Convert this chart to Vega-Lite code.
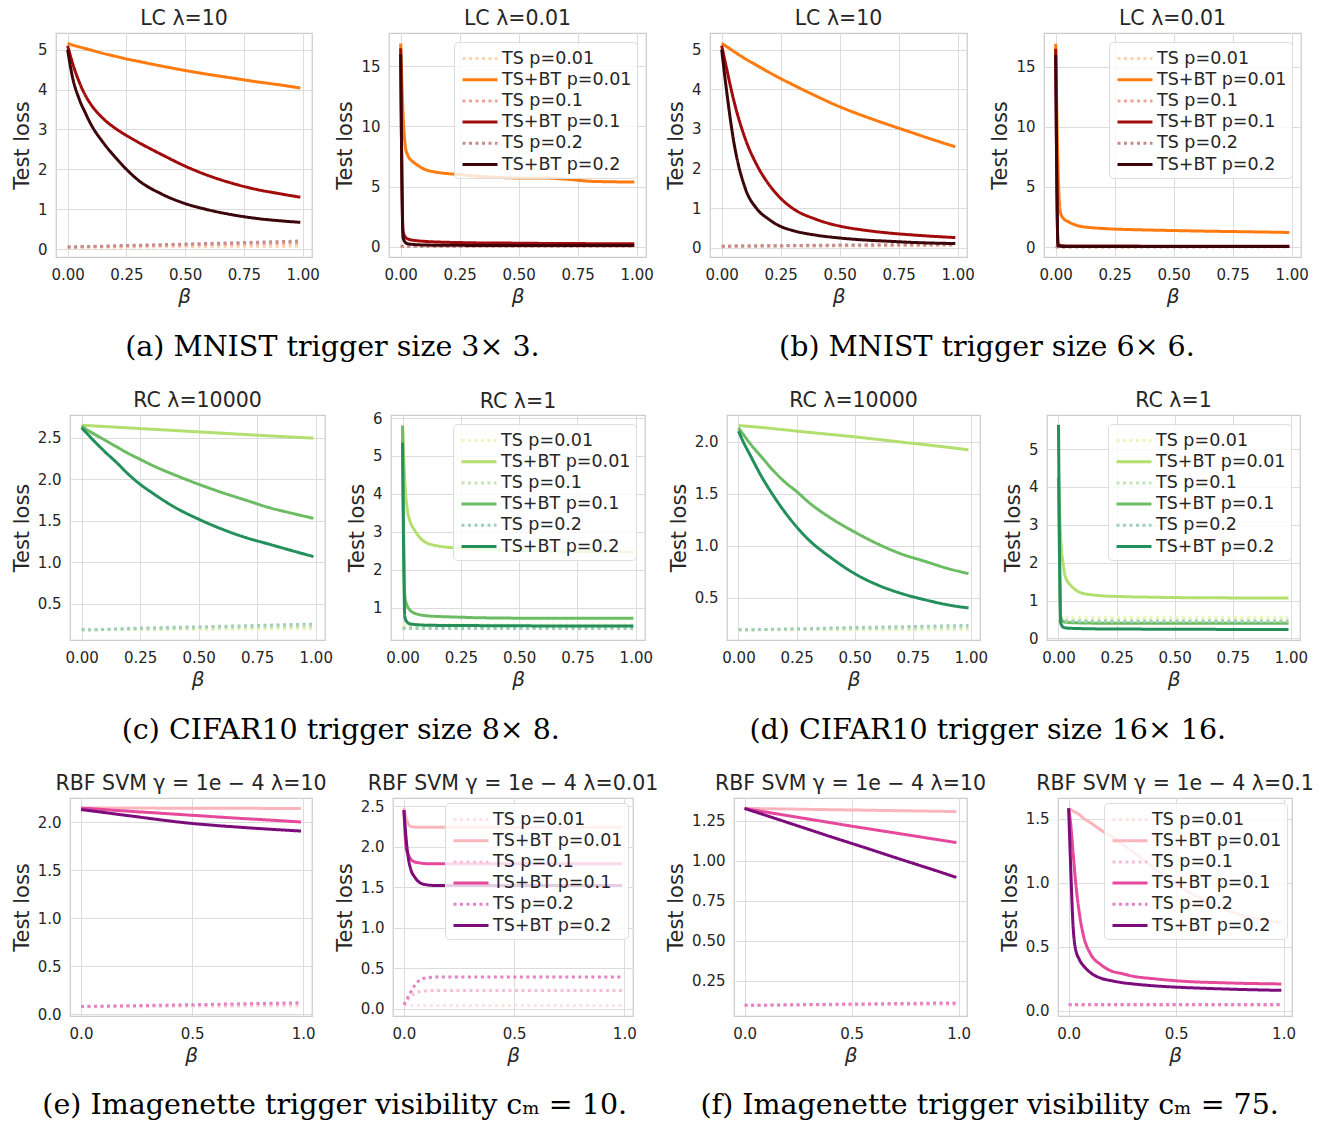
{
"$schema": "https://vega.github.io/schema/vega-lite/v6.json",
"background": "white",
"padding": {"left": 7, "top": 7, "right": 4, "bottom": 2},
"config": {
  "font": "DejaVu Sans",
  "view": {"stroke": "#cccccc", "strokeWidth": 1.25},
  "axis": {"grid": true, "gridColor": "#dcdcdc", "gridWidth": 1, "domain": false, "ticks": false, "tickSize": 0, "labelFont": "DejaVu Sans", "labelFontSize": 15, "labelColor": "#262626", "titleFont": "DejaVu Sans", "titleFontSize": 21, "titleFontWeight": "normal", "titleColor": "#262626", "labelOverlap": false},
  "axisX": {"labelPadding": 10.5, "titlePadding": 4, "titleFontSize": 20, "titleFontStyle": "italic", "labelFlush": false},
  "axisY": {"labelPadding": 9, "titlePadding": 5},
  "title": {"font": "DejaVu Sans", "fontSize": 20.5, "fontWeight": "normal", "color": "#262626", "offset": 0, "frame": "group"},
  "legend": {"padding": 5, "fillColor": "rgba(255,255,255,0.8)", "strokeColor": "#dddddd", "cornerRadius": 4, "labelFont": "DejaVu Sans", "labelFontSize": 17.5, "labelColor": "#262626", "symbolType": "M-1.75,0H1.75", "symbolSize": 400, "symbolStrokeWidth": 3, "symbolOffset": 9.5, "labelOffset": 10.5, "rowPadding": 1.2}
},
"datasets": {"d": [
{"panel":"a1","beta":0,"ts1":0.04,"bt1":5.16,"ts10":0.05,"bt10":5.1,"ts20":0.05,"bt20":5.0},
{"panel":"a1","beta":0.02,"ts1":0.04,"bt1":5.12,"ts10":0.05,"bt10":4.68,"ts20":0.05,"bt20":4.33},
{"panel":"a1","beta":0.05,"ts1":0.04,"bt1":5.07,"ts10":0.055,"bt10":4.18,"ts20":0.06,"bt20":3.75},
{"panel":"a1","beta":0.075,"ts1":0.042,"bt1":5.03,"ts10":0.057,"bt10":3.86,"ts20":0.062,"bt20":3.42},
{"panel":"a1","beta":0.1,"ts1":0.045,"bt1":4.99,"ts10":0.06,"bt10":3.62,"ts20":0.065,"bt20":3.12},
{"panel":"a1","beta":0.15,"ts1":0.045,"bt1":4.91,"ts10":0.065,"bt10":3.28,"ts20":0.07,"bt20":2.68},
{"panel":"a1","beta":0.2,"ts1":0.045,"bt1":4.84,"ts10":0.07,"bt10":3.04,"ts20":0.08,"bt20":2.32},
{"panel":"a1","beta":0.25,"ts1":0.05,"bt1":4.77,"ts10":0.075,"bt10":2.85,"ts20":0.09,"bt20":2.0},
{"panel":"a1","beta":0.3,"ts1":0.05,"bt1":4.71,"ts10":0.08,"bt10":2.68,"ts20":0.095,"bt20":1.73},
{"panel":"a1","beta":0.4,"ts1":0.055,"bt1":4.59,"ts10":0.09,"bt10":2.37,"ts20":0.11,"bt20":1.38},
{"panel":"a1","beta":0.5,"ts1":0.055,"bt1":4.48,"ts10":0.1,"bt10":2.08,"ts20":0.125,"bt20":1.14},
{"panel":"a1","beta":0.6,"ts1":0.06,"bt1":4.38,"ts10":0.11,"bt10":1.84,"ts20":0.14,"bt20":0.98},
{"panel":"a1","beta":0.7,"ts1":0.06,"bt1":4.29,"ts10":0.12,"bt10":1.65,"ts20":0.155,"bt20":0.86},
{"panel":"a1","beta":0.8,"ts1":0.065,"bt1":4.2,"ts10":0.13,"bt10":1.5,"ts20":0.17,"bt20":0.77},
{"panel":"a1","beta":0.9,"ts1":0.065,"bt1":4.12,"ts10":0.14,"bt10":1.39,"ts20":0.185,"bt20":0.71},
{"panel":"a1","beta":0.99,"ts1":0.07,"bt1":4.04,"ts10":0.15,"bt10":1.3,"ts20":0.2,"bt20":0.67},
{"panel":"a2","beta":0,"ts1":0.02,"bt1":16.9,"ts10":0.03,"bt10":16.5,"ts20":0.04,"bt20":16.0},
{"panel":"a2","beta":0.01,"ts1":0.02,"bt1":11.0,"ts10":0.03,"bt10":1.3,"ts20":0.04,"bt20":0.8},
{"panel":"a2","beta":0.02,"ts1":0.02,"bt1":8.3,"ts10":0.03,"bt10":0.8,"ts20":0.04,"bt20":0.35},
{"panel":"a2","beta":0.03,"ts1":0.02,"bt1":7.6,"ts10":0.03,"bt10":0.65,"ts20":0.04,"bt20":0.25},
{"panel":"a2","beta":0.05,"ts1":0.02,"bt1":7.1,"ts10":0.035,"bt10":0.55,"ts20":0.045,"bt20":0.2},
{"panel":"a2","beta":0.07,"ts1":0.02,"bt1":6.8,"ts10":0.035,"bt10":0.5,"ts20":0.045,"bt20":0.17},
{"panel":"a2","beta":0.1,"ts1":0.02,"bt1":6.45,"ts10":0.035,"bt10":0.45,"ts20":0.045,"bt20":0.15},
{"panel":"a2","beta":0.15,"ts1":0.02,"bt1":6.2,"ts10":0.04,"bt10":0.4,"ts20":0.05,"bt20":0.13},
{"panel":"a2","beta":0.2,"ts1":0.025,"bt1":6.08,"ts10":0.04,"bt10":0.37,"ts20":0.05,"bt20":0.12},
{"panel":"a2","beta":0.25,"ts1":0.025,"bt1":6.0,"ts10":0.04,"bt10":0.35,"ts20":0.05,"bt20":0.12},
{"panel":"a2","beta":0.3,"ts1":0.025,"bt1":5.9,"ts10":0.04,"bt10":0.33,"ts20":0.055,"bt20":0.11},
{"panel":"a2","beta":0.4,"ts1":0.025,"bt1":5.78,"ts10":0.045,"bt10":0.31,"ts20":0.055,"bt20":0.11},
{"panel":"a2","beta":0.5,"ts1":0.025,"bt1":5.72,"ts10":0.045,"bt10":0.3,"ts20":0.06,"bt20":0.11},
{"panel":"a2","beta":0.6,"ts1":0.03,"bt1":5.72,"ts10":0.05,"bt10":0.28,"ts20":0.06,"bt20":0.1},
{"panel":"a2","beta":0.7,"ts1":0.03,"bt1":5.62,"ts10":0.05,"bt10":0.27,"ts20":0.065,"bt20":0.1},
{"panel":"a2","beta":0.8,"ts1":0.03,"bt1":5.45,"ts10":0.05,"bt10":0.26,"ts20":0.07,"bt20":0.1},
{"panel":"a2","beta":0.9,"ts1":0.03,"bt1":5.4,"ts10":0.055,"bt10":0.25,"ts20":0.07,"bt20":0.1},
{"panel":"a2","beta":0.99,"ts1":0.03,"bt1":5.38,"ts10":0.055,"bt10":0.25,"ts20":0.075,"bt20":0.1},
{"panel":"b1","beta":0,"ts1":0.04,"bt1":5.16,"ts10":0.04,"bt10":5.1,"ts20":0.04,"bt20":5.0},
{"panel":"b1","beta":0.02,"ts1":0.04,"bt1":5.08,"ts10":0.04,"bt10":4.55,"ts20":0.04,"bt20":4.0},
{"panel":"b1","beta":0.05,"ts1":0.04,"bt1":4.96,"ts10":0.045,"bt10":3.75,"ts20":0.045,"bt20":2.72},
{"panel":"b1","beta":0.1,"ts1":0.04,"bt1":4.77,"ts10":0.045,"bt10":2.75,"ts20":0.05,"bt20":1.5},
{"panel":"b1","beta":0.15,"ts1":0.045,"bt1":4.6,"ts10":0.05,"bt10":2.08,"ts20":0.05,"bt20":0.98},
{"panel":"b1","beta":0.2,"ts1":0.045,"bt1":4.43,"ts10":0.05,"bt10":1.6,"ts20":0.055,"bt20":0.72},
{"panel":"b1","beta":0.25,"ts1":0.045,"bt1":4.27,"ts10":0.05,"bt10":1.25,"ts20":0.055,"bt20":0.54},
{"panel":"b1","beta":0.3,"ts1":0.045,"bt1":4.12,"ts10":0.055,"bt10":1.0,"ts20":0.06,"bt20":0.44},
{"panel":"b1","beta":0.4,"ts1":0.05,"bt1":3.83,"ts10":0.055,"bt10":0.72,"ts20":0.065,"bt20":0.32},
{"panel":"b1","beta":0.5,"ts1":0.05,"bt1":3.56,"ts10":0.06,"bt10":0.55,"ts20":0.07,"bt20":0.25},
{"panel":"b1","beta":0.6,"ts1":0.05,"bt1":3.33,"ts10":0.06,"bt10":0.45,"ts20":0.075,"bt20":0.2},
{"panel":"b1","beta":0.7,"ts1":0.05,"bt1":3.12,"ts10":0.065,"bt10":0.38,"ts20":0.08,"bt20":0.17},
{"panel":"b1","beta":0.8,"ts1":0.055,"bt1":2.92,"ts10":0.065,"bt10":0.33,"ts20":0.085,"bt20":0.14},
{"panel":"b1","beta":0.9,"ts1":0.055,"bt1":2.72,"ts10":0.07,"bt10":0.29,"ts20":0.09,"bt20":0.12},
{"panel":"b1","beta":0.99,"ts1":0.055,"bt1":2.55,"ts10":0.07,"bt10":0.26,"ts20":0.095,"bt20":0.11},
{"panel":"b2","beta":0,"ts1":0.02,"bt1":16.9,"ts10":0.02,"bt10":16.5,"ts20":0.03,"bt20":16.0},
{"panel":"b2","beta":0.01,"ts1":0.02,"bt1":6.5,"ts10":0.02,"bt10":0.25,"ts20":0.03,"bt20":0.1},
{"panel":"b2","beta":0.02,"ts1":0.02,"bt1":2.9,"ts10":0.02,"bt10":0.15,"ts20":0.03,"bt20":0.07},
{"panel":"b2","beta":0.03,"ts1":0.02,"bt1":2.45,"ts10":0.02,"bt10":0.12,"ts20":0.03,"bt20":0.06},
{"panel":"b2","beta":0.05,"ts1":0.02,"bt1":2.15,"ts10":0.02,"bt10":0.1,"ts20":0.03,"bt20":0.06},
{"panel":"b2","beta":0.07,"ts1":0.02,"bt1":1.95,"ts10":0.025,"bt10":0.1,"ts20":0.03,"bt20":0.05},
{"panel":"b2","beta":0.1,"ts1":0.02,"bt1":1.75,"ts10":0.025,"bt10":0.09,"ts20":0.03,"bt20":0.05},
{"panel":"b2","beta":0.15,"ts1":0.02,"bt1":1.62,"ts10":0.025,"bt10":0.09,"ts20":0.035,"bt20":0.05},
{"panel":"b2","beta":0.2,"ts1":0.02,"bt1":1.55,"ts10":0.025,"bt10":0.09,"ts20":0.035,"bt20":0.05},
{"panel":"b2","beta":0.25,"ts1":0.02,"bt1":1.5,"ts10":0.025,"bt10":0.09,"ts20":0.035,"bt20":0.05},
{"panel":"b2","beta":0.3,"ts1":0.02,"bt1":1.47,"ts10":0.025,"bt10":0.09,"ts20":0.035,"bt20":0.05},
{"panel":"b2","beta":0.4,"ts1":0.025,"bt1":1.42,"ts10":0.03,"bt10":0.08,"ts20":0.04,"bt20":0.05},
{"panel":"b2","beta":0.5,"ts1":0.025,"bt1":1.38,"ts10":0.03,"bt10":0.08,"ts20":0.04,"bt20":0.05},
{"panel":"b2","beta":0.6,"ts1":0.025,"bt1":1.34,"ts10":0.03,"bt10":0.08,"ts20":0.04,"bt20":0.05},
{"panel":"b2","beta":0.7,"ts1":0.025,"bt1":1.31,"ts10":0.03,"bt10":0.08,"ts20":0.045,"bt20":0.05},
{"panel":"b2","beta":0.8,"ts1":0.025,"bt1":1.28,"ts10":0.03,"bt10":0.08,"ts20":0.045,"bt20":0.05},
{"panel":"b2","beta":0.9,"ts1":0.025,"bt1":1.25,"ts10":0.035,"bt10":0.08,"ts20":0.045,"bt20":0.05},
{"panel":"b2","beta":0.99,"ts1":0.025,"bt1":1.22,"ts10":0.035,"bt10":0.08,"ts20":0.05,"bt20":0.05},
{"panel":"c1","beta":0,"ts1":0.19,"bt1":2.65,"ts10":0.19,"bt10":2.64,"ts20":0.19,"bt20":2.62},
{"panel":"c1","beta":0.02,"ts1":0.19,"bt1":2.647,"ts10":0.19,"bt10":2.6,"ts20":0.19,"bt20":2.56},
{"panel":"c1","beta":0.05,"ts1":0.19,"bt1":2.642,"ts10":0.19,"bt10":2.55,"ts20":0.19,"bt20":2.47},
{"panel":"c1","beta":0.1,"ts1":0.19,"bt1":2.634,"ts10":0.193,"bt10":2.47,"ts20":0.195,"bt20":2.33},
{"panel":"c1","beta":0.15,"ts1":0.19,"bt1":2.626,"ts10":0.195,"bt10":2.39,"ts20":0.2,"bt20":2.2},
{"panel":"c1","beta":0.2,"ts1":0.19,"bt1":2.618,"ts10":0.197,"bt10":2.31,"ts20":0.205,"bt20":2.06},
{"panel":"c1","beta":0.25,"ts1":0.19,"bt1":2.61,"ts10":0.2,"bt10":2.24,"ts20":0.21,"bt20":1.94},
{"panel":"c1","beta":0.3,"ts1":0.192,"bt1":2.602,"ts10":0.2,"bt10":2.17,"ts20":0.212,"bt20":1.84},
{"panel":"c1","beta":0.4,"ts1":0.193,"bt1":2.586,"ts10":0.205,"bt10":2.05,"ts20":0.22,"bt20":1.66},
{"panel":"c1","beta":0.5,"ts1":0.194,"bt1":2.57,"ts10":0.21,"bt10":1.94,"ts20":0.225,"bt20":1.52},
{"panel":"c1","beta":0.6,"ts1":0.195,"bt1":2.554,"ts10":0.213,"bt10":1.84,"ts20":0.232,"bt20":1.4},
{"panel":"c1","beta":0.7,"ts1":0.196,"bt1":2.538,"ts10":0.217,"bt10":1.75,"ts20":0.238,"bt20":1.3},
{"panel":"c1","beta":0.8,"ts1":0.197,"bt1":2.522,"ts10":0.221,"bt10":1.66,"ts20":0.245,"bt20":1.22},
{"panel":"c1","beta":0.9,"ts1":0.198,"bt1":2.508,"ts10":0.225,"bt10":1.59,"ts20":0.252,"bt20":1.14},
{"panel":"c1","beta":0.99,"ts1":0.2,"bt1":2.495,"ts10":0.228,"bt10":1.53,"ts20":0.258,"bt20":1.07},
{"panel":"c2","beta":0,"ts1":0.55,"bt1":5.8,"ts10":0.48,"bt10":5.8,"ts20":0.45,"bt20":5.35},
{"panel":"c2","beta":0.01,"ts1":0.55,"bt1":4.3,"ts10":0.48,"bt10":1.3,"ts20":0.45,"bt20":0.75},
{"panel":"c2","beta":0.02,"ts1":0.55,"bt1":3.6,"ts10":0.48,"bt10":1.05,"ts20":0.45,"bt20":0.62},
{"panel":"c2","beta":0.03,"ts1":0.55,"bt1":3.32,"ts10":0.48,"bt10":0.95,"ts20":0.45,"bt20":0.58},
{"panel":"c2","beta":0.05,"ts1":0.55,"bt1":3.06,"ts10":0.48,"bt10":0.86,"ts20":0.45,"bt20":0.56},
{"panel":"c2","beta":0.07,"ts1":0.55,"bt1":2.88,"ts10":0.48,"bt10":0.82,"ts20":0.45,"bt20":0.55},
{"panel":"c2","beta":0.1,"ts1":0.55,"bt1":2.72,"ts10":0.48,"bt10":0.79,"ts20":0.45,"bt20":0.54},
{"panel":"c2","beta":0.15,"ts1":0.55,"bt1":2.63,"ts10":0.48,"bt10":0.77,"ts20":0.45,"bt20":0.535},
{"panel":"c2","beta":0.2,"ts1":0.55,"bt1":2.59,"ts10":0.48,"bt10":0.76,"ts20":0.45,"bt20":0.53},
{"panel":"c2","beta":0.25,"ts1":0.55,"bt1":2.57,"ts10":0.48,"bt10":0.75,"ts20":0.45,"bt20":0.53},
{"panel":"c2","beta":0.3,"ts1":0.55,"bt1":2.55,"ts10":0.48,"bt10":0.74,"ts20":0.45,"bt20":0.53},
{"panel":"c2","beta":0.4,"ts1":0.55,"bt1":2.53,"ts10":0.48,"bt10":0.73,"ts20":0.45,"bt20":0.525},
{"panel":"c2","beta":0.5,"ts1":0.55,"bt1":2.51,"ts10":0.48,"bt10":0.725,"ts20":0.45,"bt20":0.525},
{"panel":"c2","beta":0.6,"ts1":0.55,"bt1":2.5,"ts10":0.48,"bt10":0.72,"ts20":0.45,"bt20":0.52},
{"panel":"c2","beta":0.7,"ts1":0.55,"bt1":2.49,"ts10":0.48,"bt10":0.72,"ts20":0.45,"bt20":0.52},
{"panel":"c2","beta":0.8,"ts1":0.55,"bt1":2.48,"ts10":0.48,"bt10":0.72,"ts20":0.45,"bt20":0.52},
{"panel":"c2","beta":0.9,"ts1":0.55,"bt1":2.47,"ts10":0.48,"bt10":0.72,"ts20":0.45,"bt20":0.52},
{"panel":"c2","beta":0.99,"ts1":0.55,"bt1":2.47,"ts10":0.48,"bt10":0.72,"ts20":0.45,"bt20":0.52},
{"panel":"d1","beta":0,"ts1":0.19,"bt1":2.155,"ts10":0.19,"bt10":2.13,"ts20":0.19,"bt20":2.1},
{"panel":"d1","beta":0.02,"ts1":0.19,"bt1":2.15,"ts10":0.19,"bt10":2.07,"ts20":0.19,"bt20":2.0},
{"panel":"d1","beta":0.05,"ts1":0.19,"bt1":2.145,"ts10":0.19,"bt10":1.98,"ts20":0.19,"bt20":1.87},
{"panel":"d1","beta":0.1,"ts1":0.19,"bt1":2.135,"ts10":0.192,"bt10":1.85,"ts20":0.193,"bt20":1.66},
{"panel":"d1","beta":0.15,"ts1":0.19,"bt1":2.124,"ts10":0.193,"bt10":1.72,"ts20":0.195,"bt20":1.48},
{"panel":"d1","beta":0.2,"ts1":0.19,"bt1":2.112,"ts10":0.194,"bt10":1.61,"ts20":0.197,"bt20":1.32},
{"panel":"d1","beta":0.25,"ts1":0.19,"bt1":2.1,"ts10":0.195,"bt10":1.52,"ts20":0.2,"bt20":1.18},
{"panel":"d1","beta":0.3,"ts1":0.19,"bt1":2.089,"ts10":0.196,"bt10":1.42,"ts20":0.202,"bt20":1.06},
{"panel":"d1","beta":0.4,"ts1":0.19,"bt1":2.067,"ts10":0.198,"bt10":1.26,"ts20":0.207,"bt20":0.88},
{"panel":"d1","beta":0.5,"ts1":0.19,"bt1":2.045,"ts10":0.2,"bt10":1.13,"ts20":0.212,"bt20":0.73},
{"panel":"d1","beta":0.6,"ts1":0.19,"bt1":2.02,"ts10":0.202,"bt10":1.015,"ts20":0.216,"bt20":0.62},
{"panel":"d1","beta":0.7,"ts1":0.19,"bt1":1.995,"ts10":0.204,"bt10":0.92,"ts20":0.22,"bt20":0.54},
{"panel":"d1","beta":0.8,"ts1":0.19,"bt1":1.97,"ts10":0.206,"bt10":0.85,"ts20":0.224,"bt20":0.48},
{"panel":"d1","beta":0.9,"ts1":0.19,"bt1":1.945,"ts10":0.208,"bt10":0.78,"ts20":0.228,"bt20":0.43},
{"panel":"d1","beta":0.99,"ts1":0.19,"bt1":1.92,"ts10":0.21,"bt10":0.73,"ts20":0.232,"bt20":0.4},
{"panel":"d2","beta":0,"ts1":0.56,"bt1":4.25,"ts10":0.48,"bt10":4.25,"ts20":0.45,"bt20":5.64},
{"panel":"d2","beta":0.01,"ts1":0.56,"bt1":2.6,"ts10":0.48,"bt10":0.55,"ts20":0.45,"bt20":0.4},
{"panel":"d2","beta":0.02,"ts1":0.56,"bt1":1.95,"ts10":0.48,"bt10":0.45,"ts20":0.45,"bt20":0.3},
{"panel":"d2","beta":0.03,"ts1":0.56,"bt1":1.62,"ts10":0.48,"bt10":0.43,"ts20":0.45,"bt20":0.28},
{"panel":"d2","beta":0.05,"ts1":0.56,"bt1":1.42,"ts10":0.48,"bt10":0.42,"ts20":0.45,"bt20":0.27},
{"panel":"d2","beta":0.07,"ts1":0.56,"bt1":1.3,"ts10":0.48,"bt10":0.415,"ts20":0.45,"bt20":0.265},
{"panel":"d2","beta":0.1,"ts1":0.56,"bt1":1.2,"ts10":0.48,"bt10":0.41,"ts20":0.45,"bt20":0.26},
{"panel":"d2","beta":0.15,"ts1":0.56,"bt1":1.15,"ts10":0.48,"bt10":0.405,"ts20":0.45,"bt20":0.255},
{"panel":"d2","beta":0.2,"ts1":0.56,"bt1":1.12,"ts10":0.48,"bt10":0.4,"ts20":0.45,"bt20":0.25},
{"panel":"d2","beta":0.25,"ts1":0.56,"bt1":1.11,"ts10":0.48,"bt10":0.4,"ts20":0.45,"bt20":0.25},
{"panel":"d2","beta":0.3,"ts1":0.56,"bt1":1.1,"ts10":0.48,"bt10":0.4,"ts20":0.45,"bt20":0.25},
{"panel":"d2","beta":0.4,"ts1":0.56,"bt1":1.09,"ts10":0.48,"bt10":0.4,"ts20":0.45,"bt20":0.245},
{"panel":"d2","beta":0.5,"ts1":0.56,"bt1":1.08,"ts10":0.48,"bt10":0.4,"ts20":0.45,"bt20":0.245},
{"panel":"d2","beta":0.6,"ts1":0.56,"bt1":1.075,"ts10":0.48,"bt10":0.4,"ts20":0.45,"bt20":0.245},
{"panel":"d2","beta":0.7,"ts1":0.56,"bt1":1.073,"ts10":0.48,"bt10":0.4,"ts20":0.45,"bt20":0.24},
{"panel":"d2","beta":0.8,"ts1":0.56,"bt1":1.07,"ts10":0.48,"bt10":0.4,"ts20":0.45,"bt20":0.24},
{"panel":"d2","beta":0.9,"ts1":0.56,"bt1":1.07,"ts10":0.48,"bt10":0.4,"ts20":0.45,"bt20":0.24},
{"panel":"d2","beta":0.99,"ts1":0.56,"bt1":1.07,"ts10":0.48,"bt10":0.4,"ts20":0.45,"bt20":0.24},
{"panel":"e1","beta":0,"ts1":0.075,"bt1":2.147,"ts10":0.08,"bt10":2.145,"ts20":0.08,"bt20":2.13},
{"panel":"e1","beta":0.02,"ts1":0.075,"bt1":2.147,"ts10":0.08,"bt10":2.142,"ts20":0.08,"bt20":2.124},
{"panel":"e1","beta":0.05,"ts1":0.075,"bt1":2.147,"ts10":0.08,"bt10":2.138,"ts20":0.081,"bt20":2.115},
{"panel":"e1","beta":0.1,"ts1":0.076,"bt1":2.146,"ts10":0.081,"bt10":2.13,"ts20":0.082,"bt20":2.1},
{"panel":"e1","beta":0.15,"ts1":0.076,"bt1":2.146,"ts10":0.082,"bt10":2.122,"ts20":0.084,"bt20":2.085},
{"panel":"e1","beta":0.2,"ts1":0.077,"bt1":2.145,"ts10":0.083,"bt10":2.115,"ts20":0.086,"bt20":2.07},
{"panel":"e1","beta":0.25,"ts1":0.077,"bt1":2.145,"ts10":0.084,"bt10":2.107,"ts20":0.088,"bt20":2.055},
{"panel":"e1","beta":0.3,"ts1":0.078,"bt1":2.145,"ts10":0.085,"bt10":2.1,"ts20":0.09,"bt20":2.04},
{"panel":"e1","beta":0.4,"ts1":0.078,"bt1":2.144,"ts10":0.087,"bt10":2.085,"ts20":0.094,"bt20":2.01},
{"panel":"e1","beta":0.5,"ts1":0.079,"bt1":2.144,"ts10":0.089,"bt10":2.07,"ts20":0.098,"bt20":1.985},
{"panel":"e1","beta":0.6,"ts1":0.08,"bt1":2.143,"ts10":0.091,"bt10":2.055,"ts20":0.102,"bt20":1.965},
{"panel":"e1","beta":0.7,"ts1":0.08,"bt1":2.142,"ts10":0.093,"bt10":2.04,"ts20":0.106,"bt20":1.948},
{"panel":"e1","beta":0.8,"ts1":0.081,"bt1":2.142,"ts10":0.095,"bt10":2.027,"ts20":0.11,"bt20":1.932},
{"panel":"e1","beta":0.9,"ts1":0.082,"bt1":2.141,"ts10":0.097,"bt10":2.013,"ts20":0.114,"bt20":1.918},
{"panel":"e1","beta":0.99,"ts1":0.082,"bt1":2.14,"ts10":0.099,"bt10":2.0,"ts20":0.118,"bt20":1.906},
{"panel":"e2","beta":0,"ts1":0.04,"bt1":2.48,"ts10":0.04,"bt10":2.45,"ts20":0.05,"bt20":2.45},
{"panel":"e2","beta":0.01,"ts1":0.04,"bt1":2.36,"ts10":0.08,"bt10":1.98,"ts20":0.1,"bt20":2.1},
{"panel":"e2","beta":0.02,"ts1":0.04,"bt1":2.28,"ts10":0.12,"bt10":1.9,"ts20":0.15,"bt20":1.86},
{"panel":"e2","beta":0.03,"ts1":0.04,"bt1":2.25,"ts10":0.15,"bt10":1.85,"ts20":0.2,"bt20":1.73},
{"panel":"e2","beta":0.05,"ts1":0.04,"bt1":2.24,"ts10":0.19,"bt10":1.81,"ts20":0.29,"bt20":1.62},
{"panel":"e2","beta":0.07,"ts1":0.04,"bt1":2.24,"ts10":0.21,"bt10":1.8,"ts20":0.35,"bt20":1.56},
{"panel":"e2","beta":0.1,"ts1":0.04,"bt1":2.24,"ts10":0.22,"bt10":1.79,"ts20":0.38,"bt20":1.53},
{"panel":"e2","beta":0.15,"ts1":0.04,"bt1":2.24,"ts10":0.225,"bt10":1.79,"ts20":0.39,"bt20":1.52},
{"panel":"e2","beta":0.2,"ts1":0.04,"bt1":2.24,"ts10":0.225,"bt10":1.79,"ts20":0.39,"bt20":1.52},
{"panel":"e2","beta":0.25,"ts1":0.04,"bt1":2.24,"ts10":0.225,"bt10":1.79,"ts20":0.39,"bt20":1.52},
{"panel":"e2","beta":0.3,"ts1":0.04,"bt1":2.24,"ts10":0.225,"bt10":1.79,"ts20":0.39,"bt20":1.52},
{"panel":"e2","beta":0.4,"ts1":0.04,"bt1":2.24,"ts10":0.225,"bt10":1.79,"ts20":0.39,"bt20":1.52},
{"panel":"e2","beta":0.5,"ts1":0.04,"bt1":2.24,"ts10":0.225,"bt10":1.79,"ts20":0.39,"bt20":1.52},
{"panel":"e2","beta":0.6,"ts1":0.04,"bt1":2.24,"ts10":0.225,"bt10":1.79,"ts20":0.39,"bt20":1.52},
{"panel":"e2","beta":0.7,"ts1":0.04,"bt1":2.24,"ts10":0.225,"bt10":1.79,"ts20":0.39,"bt20":1.52},
{"panel":"e2","beta":0.8,"ts1":0.04,"bt1":2.24,"ts10":0.225,"bt10":1.79,"ts20":0.39,"bt20":1.52},
{"panel":"e2","beta":0.9,"ts1":0.04,"bt1":2.24,"ts10":0.225,"bt10":1.79,"ts20":0.39,"bt20":1.52},
{"panel":"e2","beta":0.99,"ts1":0.04,"bt1":2.24,"ts10":0.225,"bt10":1.79,"ts20":0.39,"bt20":1.52},
{"panel":"f1","beta":0,"ts1":0.095,"bt1":1.327,"ts10":0.095,"bt10":1.327,"ts20":0.095,"bt20":1.327},
{"panel":"f1","beta":0.02,"ts1":0.095,"bt1":1.327,"ts10":0.095,"bt10":1.322,"ts20":0.095,"bt20":1.318},
{"panel":"f1","beta":0.05,"ts1":0.095,"bt1":1.326,"ts10":0.095,"bt10":1.315,"ts20":0.096,"bt20":1.305},
{"panel":"f1","beta":0.1,"ts1":0.095,"bt1":1.325,"ts10":0.096,"bt10":1.304,"ts20":0.096,"bt20":1.283},
{"panel":"f1","beta":0.15,"ts1":0.095,"bt1":1.324,"ts10":0.096,"bt10":1.293,"ts20":0.097,"bt20":1.261},
{"panel":"f1","beta":0.2,"ts1":0.096,"bt1":1.323,"ts10":0.097,"bt10":1.282,"ts20":0.098,"bt20":1.239},
{"panel":"f1","beta":0.25,"ts1":0.096,"bt1":1.322,"ts10":0.097,"bt10":1.271,"ts20":0.099,"bt20":1.217},
{"panel":"f1","beta":0.3,"ts1":0.096,"bt1":1.321,"ts10":0.098,"bt10":1.26,"ts20":0.1,"bt20":1.195},
{"panel":"f1","beta":0.4,"ts1":0.096,"bt1":1.319,"ts10":0.099,"bt10":1.238,"ts20":0.101,"bt20":1.151},
{"panel":"f1","beta":0.5,"ts1":0.097,"bt1":1.317,"ts10":0.1,"bt10":1.216,"ts20":0.103,"bt20":1.108},
{"panel":"f1","beta":0.6,"ts1":0.097,"bt1":1.315,"ts10":0.101,"bt10":1.195,"ts20":0.104,"bt20":1.065},
{"panel":"f1","beta":0.7,"ts1":0.097,"bt1":1.313,"ts10":0.102,"bt10":1.174,"ts20":0.106,"bt20":1.021},
{"panel":"f1","beta":0.8,"ts1":0.098,"bt1":1.311,"ts10":0.102,"bt10":1.153,"ts20":0.107,"bt20":0.978},
{"panel":"f1","beta":0.9,"ts1":0.098,"bt1":1.309,"ts10":0.103,"bt10":1.132,"ts20":0.109,"bt20":0.935},
{"panel":"f1","beta":0.99,"ts1":0.098,"bt1":1.307,"ts10":0.104,"bt10":1.113,"ts20":0.11,"bt20":0.895},
{"panel":"f2","beta":0,"ts1":0.04,"bt1":1.58,"ts10":0.045,"bt10":1.58,"ts20":0.05,"bt20":1.58},
{"panel":"f2","beta":0.01,"ts1":0.04,"bt1":1.57,"ts10":0.045,"bt10":1.45,"ts20":0.05,"bt20":1.1},
{"panel":"f2","beta":0.02,"ts1":0.04,"bt1":1.56,"ts10":0.045,"bt10":1.25,"ts20":0.05,"bt20":0.68},
{"panel":"f2","beta":0.03,"ts1":0.04,"bt1":1.55,"ts10":0.045,"bt10":1.05,"ts20":0.05,"bt20":0.5},
{"panel":"f2","beta":0.05,"ts1":0.04,"bt1":1.53,"ts10":0.045,"bt10":0.76,"ts20":0.05,"bt20":0.4},
{"panel":"f2","beta":0.07,"ts1":0.04,"bt1":1.5,"ts10":0.045,"bt10":0.58,"ts20":0.05,"bt20":0.35},
{"panel":"f2","beta":0.1,"ts1":0.04,"bt1":1.47,"ts10":0.045,"bt10":0.45,"ts20":0.05,"bt20":0.3},
{"panel":"f2","beta":0.15,"ts1":0.04,"bt1":1.41,"ts10":0.045,"bt10":0.36,"ts20":0.05,"bt20":0.255},
{"panel":"f2","beta":0.2,"ts1":0.04,"bt1":1.36,"ts10":0.045,"bt10":0.31,"ts20":0.05,"bt20":0.235},
{"panel":"f2","beta":0.25,"ts1":0.04,"bt1":1.3,"ts10":0.045,"bt10":0.29,"ts20":0.05,"bt20":0.22},
{"panel":"f2","beta":0.3,"ts1":0.04,"bt1":1.24,"ts10":0.045,"bt10":0.27,"ts20":0.05,"bt20":0.21},
{"panel":"f2","beta":0.4,"ts1":0.04,"bt1":1.11,"ts10":0.045,"bt10":0.25,"ts20":0.05,"bt20":0.195},
{"panel":"f2","beta":0.5,"ts1":0.04,"bt1":0.99,"ts10":0.045,"bt10":0.235,"ts20":0.05,"bt20":0.185},
{"panel":"f2","beta":0.6,"ts1":0.04,"bt1":0.89,"ts10":0.045,"bt10":0.225,"ts20":0.05,"bt20":0.178},
{"panel":"f2","beta":0.7,"ts1":0.04,"bt1":0.81,"ts10":0.045,"bt10":0.22,"ts20":0.05,"bt20":0.172},
{"panel":"f2","beta":0.8,"ts1":0.04,"bt1":0.75,"ts10":0.045,"bt10":0.215,"ts20":0.05,"bt20":0.167},
{"panel":"f2","beta":0.9,"ts1":0.04,"bt1":0.71,"ts10":0.045,"bt10":0.212,"ts20":0.05,"bt20":0.163},
{"panel":"f2","beta":0.99,"ts1":0.04,"bt1":0.69,"ts10":0.045,"bt10":0.21,"ts20":0.05,"bt20":0.16}
]},
"columns": 1,
"align": "none",
"spacing": 27,
"resolve": {"scale": {"color": "independent", "strokeDash": "independent"}},
"concat": [
{"spacing": 2, "resolve": {"scale": {"color": "independent", "strokeDash": "independent"}}, "hconcat": [
 {"width": 1, "height": 1, "data": {"values": []}, "mark": {"type": "text", "text": ""}, "view": {"stroke": null}},
 {"spacing": 9, "resolve": {"scale": {"color": "independent", "strokeDash": "independent"}}, "hconcat": [
 {"title": {"text": "(a) MNIST trigger size 3× 3.", "orient": "bottom", "anchor": "middle", "frame": "bounds", "font": "DejaVu Serif", "fontSize": 28.5, "color": "#000000", "offset": 25.5}, "bounds": "flush", "spacing": 77, "resolve": {"scale": {"color": "independent", "strokeDash": "independent"}}, "hconcat": [
  {"title": {"text": "LC λ=10", "frame": "group"}, "width": 256, "height": 224, "data": {"name": "d"}, "transform": [{"filter": "datum.panel == 'a1'"}, {"fold": ["ts1","bt1","ts10","bt10","ts20","bt20"], "as": ["series","loss"]}],
   "mark": {"type": "line", "strokeWidth": 3, "interpolate": "monotone", "clip": true, "strokeCap": "butt"},
   "encoding": {
    "x": {"field": "beta", "type": "quantitative", "title": "β", "scale": {"domain": [-0.0495, 1.0395], "nice": false, "zero": false}, "axis": {"values": [0,0.25,0.5,0.75,1], "format": ".2f"}},
    "y": {"field": "loss", "type": "quantitative", "title": "Test loss", "scale": {"domain": [-0.2, 5.42], "nice": false, "zero": false}, "axis": {"values": [0,1,2,3,4,5], "format": "d"}},
    "color": {"field": "series", "type": "nominal", "scale": {"domain": ["ts1","bt1","ts10","bt10","ts20","bt20"], "range": ["#fdd5b1","#ff7a0f","#f0a398","#a10b0b","#c48d8d","#3c0509"]}, "legend": null},
    "strokeDash": {"field": "series", "type": "nominal", "scale": {"domain": ["ts1","bt1","ts10","bt10","ts20","bt20"], "range": [[3,3.5],[1,0],[3,3.5],[1,0],[3,3.5],[1,0]]}, "legend": null}
   }},
  {"title": {"text": "LC λ=0.01", "frame": "group"}, "width": 257, "height": 224, "data": {"name": "d"}, "transform": [{"filter": "datum.panel == 'a2'"}, {"fold": ["ts1","bt1","ts10","bt10","ts20","bt20"], "as": ["series","loss"]}],
   "mark": {"type": "line", "strokeWidth": 3, "interpolate": "monotone", "clip": true, "strokeCap": "butt"},
   "encoding": {
    "x": {"field": "beta", "type": "quantitative", "title": "β", "scale": {"domain": [-0.0495, 1.0395], "nice": false, "zero": false}, "axis": {"values": [0,0.25,0.5,0.75,1], "format": ".2f"}},
    "y": {"field": "loss", "type": "quantitative", "title": "Test loss", "scale": {"domain": [-0.85, 17.77], "nice": false, "zero": false}, "axis": {"values": [0,5,10,15], "format": "d"}},
    "color": {"field": "series", "type": "nominal", "scale": {"domain": ["ts1","bt1","ts10","bt10","ts20","bt20"], "range": ["#fdd5b1","#ff7a0f","#f0a398","#a10b0b","#c48d8d","#3c0509"]}, "legend": {"title": null, "orient": "top-right", "offset": 9, "labelExpr": "datum.value == 'ts1' ? 'TS p=0.01' : datum.value == 'bt1' ? 'TS+BT p=0.01' : datum.value == 'ts10' ? 'TS p=0.1' : datum.value == 'bt10' ? 'TS+BT p=0.1' : datum.value == 'ts20' ? 'TS p=0.2' : 'TS+BT p=0.2'"}},
    "strokeDash": {"field": "series", "type": "nominal", "scale": {"domain": ["ts1","bt1","ts10","bt10","ts20","bt20"], "range": [[3,3.5],[1,0],[3,3.5],[1,0],[3,3.5],[1,0]]}, "legend": {"title": null, "orient": "top-right", "offset": 9, "labelExpr": "datum.value == 'ts1' ? 'TS p=0.01' : datum.value == 'bt1' ? 'TS+BT p=0.01' : datum.value == 'ts10' ? 'TS p=0.1' : datum.value == 'bt10' ? 'TS+BT p=0.1' : datum.value == 'ts20' ? 'TS p=0.2' : 'TS+BT p=0.2'"}}
   }}
 ]},
 {"title": {"text": "(b) MNIST trigger size 6× 6.", "orient": "bottom", "anchor": "middle", "frame": "bounds", "font": "DejaVu Serif", "fontSize": 28.5, "color": "#000000", "offset": 25.5}, "bounds": "flush", "spacing": 77, "resolve": {"scale": {"color": "independent", "strokeDash": "independent"}}, "hconcat": [
  {"title": {"text": "LC λ=10", "frame": "group"}, "width": 257, "height": 224, "data": {"name": "d"}, "transform": [{"filter": "datum.panel == 'b1'"}, {"fold": ["ts1","bt1","ts10","bt10","ts20","bt20"], "as": ["series","loss"]}],
   "mark": {"type": "line", "strokeWidth": 3, "interpolate": "monotone", "clip": true, "strokeCap": "butt"},
   "encoding": {
    "x": {"field": "beta", "type": "quantitative", "title": "β", "scale": {"domain": [-0.0495, 1.0395], "nice": false, "zero": false}, "axis": {"values": [0,0.25,0.5,0.75,1], "format": ".2f"}},
    "y": {"field": "loss", "type": "quantitative", "title": "Test loss", "scale": {"domain": [-0.23, 5.42], "nice": false, "zero": false}, "axis": {"values": [0,1,2,3,4,5], "format": "d"}},
    "color": {"field": "series", "type": "nominal", "scale": {"domain": ["ts1","bt1","ts10","bt10","ts20","bt20"], "range": ["#fdd5b1","#ff7a0f","#f0a398","#a10b0b","#c48d8d","#3c0509"]}, "legend": null},
    "strokeDash": {"field": "series", "type": "nominal", "scale": {"domain": ["ts1","bt1","ts10","bt10","ts20","bt20"], "range": [[3,3.5],[1,0],[3,3.5],[1,0],[3,3.5],[1,0]]}, "legend": null}
   }},
  {"title": {"text": "LC λ=0.01", "frame": "group"}, "width": 257, "height": 224, "data": {"name": "d"}, "transform": [{"filter": "datum.panel == 'b2'"}, {"fold": ["ts1","bt1","ts10","bt10","ts20","bt20"], "as": ["series","loss"]}],
   "mark": {"type": "line", "strokeWidth": 3, "interpolate": "monotone", "clip": true, "strokeCap": "butt"},
   "encoding": {
    "x": {"field": "beta", "type": "quantitative", "title": "β", "scale": {"domain": [-0.0495, 1.0395], "nice": false, "zero": false}, "axis": {"values": [0,0.25,0.5,0.75,1], "format": ".2f"}},
    "y": {"field": "loss", "type": "quantitative", "title": "Test loss", "scale": {"domain": [-0.82, 17.8], "nice": false, "zero": false}, "axis": {"values": [0,5,10,15], "format": "d"}},
    "color": {"field": "series", "type": "nominal", "scale": {"domain": ["ts1","bt1","ts10","bt10","ts20","bt20"], "range": ["#fdd5b1","#ff7a0f","#f0a398","#a10b0b","#c48d8d","#3c0509"]}, "legend": {"title": null, "orient": "top-right", "offset": 9, "labelExpr": "datum.value == 'ts1' ? 'TS p=0.01' : datum.value == 'bt1' ? 'TS+BT p=0.01' : datum.value == 'ts10' ? 'TS p=0.1' : datum.value == 'bt10' ? 'TS+BT p=0.1' : datum.value == 'ts20' ? 'TS p=0.2' : 'TS+BT p=0.2'"}},
    "strokeDash": {"field": "series", "type": "nominal", "scale": {"domain": ["ts1","bt1","ts10","bt10","ts20","bt20"], "range": [[3,3.5],[1,0],[3,3.5],[1,0],[3,3.5],[1,0]]}, "legend": {"title": null, "orient": "top-right", "offset": 9, "labelExpr": "datum.value == 'ts1' ? 'TS p=0.01' : datum.value == 'bt1' ? 'TS+BT p=0.01' : datum.value == 'ts10' ? 'TS p=0.1' : datum.value == 'bt10' ? 'TS+BT p=0.1' : datum.value == 'ts20' ? 'TS p=0.2' : 'TS+BT p=0.2'"}}
   }}
 ]}
 ]}
]},
{"spacing": 2, "resolve": {"scale": {"color": "independent", "strokeDash": "independent"}}, "hconcat": [
 {"width": 1, "height": 1, "data": {"values": []}, "mark": {"type": "text", "text": ""}, "view": {"stroke": null}},
 {"spacing": 13, "resolve": {"scale": {"color": "independent", "strokeDash": "independent"}}, "hconcat": [
 {"title": {"text": "(c) CIFAR10 trigger size 8× 8.", "orient": "bottom", "anchor": "middle", "frame": "bounds", "font": "DejaVu Serif", "fontSize": 28.5, "color": "#000000", "offset": 25.5, "dx": 9}, "bounds": "flush", "spacing": 66, "resolve": {"scale": {"color": "independent", "strokeDash": "independent"}}, "hconcat": [
  {"title": {"text": "RC λ=10000", "frame": "group"}, "width": 255, "height": 225, "data": {"name": "d"}, "transform": [{"filter": "datum.panel == 'c1'"}, {"fold": ["ts1","bt1","ts10","bt10","ts20","bt20"], "as": ["series","loss"]}],
   "mark": {"type": "line", "strokeWidth": 3, "interpolate": "monotone", "clip": true, "strokeCap": "butt"},
   "encoding": {
    "x": {"field": "beta", "type": "quantitative", "title": "β", "scale": {"domain": [-0.0495, 1.0395], "nice": false, "zero": false}, "axis": {"values": [0,0.25,0.5,0.75,1], "format": ".2f"}},
    "y": {"field": "loss", "type": "quantitative", "title": "Test loss", "scale": {"domain": [0.067, 2.773], "nice": false, "zero": false}, "axis": {"values": [0.5,1,1.5,2,2.5], "format": ".1f"}},
    "color": {"field": "series", "type": "nominal", "scale": {"domain": ["ts1","bt1","ts10","bt10","ts20","bt20"], "range": ["#eef6b9","#b3df6e","#c6e4b4","#6cbc64","#9fd0b6","#23905c"]}, "legend": null},
    "strokeDash": {"field": "series", "type": "nominal", "scale": {"domain": ["ts1","bt1","ts10","bt10","ts20","bt20"], "range": [[3,3.5],[1,0],[3,3.5],[1,0],[3,3.5],[1,0]]}, "legend": null}
   }},
  {"title": {"text": "RC λ=1", "frame": "group", "offset": -1}, "width": 254, "height": 225, "data": {"name": "d"}, "transform": [{"filter": "datum.panel == 'c2'"}, {"fold": ["ts1","bt1","ts10","bt10","ts20","bt20"], "as": ["series","loss"]}],
   "mark": {"type": "line", "strokeWidth": 3, "interpolate": "monotone", "clip": true, "strokeCap": "butt"},
   "encoding": {
    "x": {"field": "beta", "type": "quantitative", "title": "β", "scale": {"domain": [-0.0495, 1.0395], "nice": false, "zero": false}, "axis": {"values": [0,0.25,0.5,0.75,1], "format": ".2f"}},
    "y": {"field": "loss", "type": "quantitative", "title": "Test loss", "scale": {"domain": [0.15, 6.08], "nice": false, "zero": false}, "axis": {"values": [1,2,3,4,5,6], "format": "d"}},
    "color": {"field": "series", "type": "nominal", "scale": {"domain": ["ts1","bt1","ts10","bt10","ts20","bt20"], "range": ["#eef6b9","#b3df6e","#c6e4b4","#6cbc64","#9fd0b6","#23905c"]}, "legend": {"title": null, "orient": "top-right", "offset": 9, "labelExpr": "datum.value == 'ts1' ? 'TS p=0.01' : datum.value == 'bt1' ? 'TS+BT p=0.01' : datum.value == 'ts10' ? 'TS p=0.1' : datum.value == 'bt10' ? 'TS+BT p=0.1' : datum.value == 'ts20' ? 'TS p=0.2' : 'TS+BT p=0.2'"}},
    "strokeDash": {"field": "series", "type": "nominal", "scale": {"domain": ["ts1","bt1","ts10","bt10","ts20","bt20"], "range": [[3,3.5],[1,0],[3,3.5],[1,0],[3,3.5],[1,0]]}, "legend": {"title": null, "orient": "top-right", "offset": 9, "labelExpr": "datum.value == 'ts1' ? 'TS p=0.01' : datum.value == 'bt1' ? 'TS+BT p=0.01' : datum.value == 'ts10' ? 'TS p=0.1' : datum.value == 'bt10' ? 'TS+BT p=0.1' : datum.value == 'ts20' ? 'TS p=0.2' : 'TS+BT p=0.2'"}}
   }}
 ]},
 {"title": {"text": "(d) CIFAR10 trigger size 16× 16.", "orient": "bottom", "anchor": "middle", "frame": "bounds", "font": "DejaVu Serif", "fontSize": 28.5, "color": "#000000", "offset": 25.5}, "bounds": "flush", "spacing": 67, "resolve": {"scale": {"color": "independent", "strokeDash": "independent"}}, "hconcat": [
  {"title": {"text": "RC λ=10000", "frame": "group"}, "width": 253, "height": 225, "data": {"name": "d"}, "transform": [{"filter": "datum.panel == 'd1'"}, {"fold": ["ts1","bt1","ts10","bt10","ts20","bt20"], "as": ["series","loss"]}],
   "mark": {"type": "line", "strokeWidth": 3, "interpolate": "monotone", "clip": true, "strokeCap": "butt"},
   "encoding": {
    "x": {"field": "beta", "type": "quantitative", "title": "β", "scale": {"domain": [-0.0495, 1.0395], "nice": false, "zero": false}, "axis": {"values": [0,0.25,0.5,0.75,1], "format": ".2f"}},
    "y": {"field": "loss", "type": "quantitative", "title": "Test loss", "scale": {"domain": [0.092, 2.255], "nice": false, "zero": false}, "axis": {"values": [0.5,1,1.5,2], "format": ".1f"}},
    "color": {"field": "series", "type": "nominal", "scale": {"domain": ["ts1","bt1","ts10","bt10","ts20","bt20"], "range": ["#eef6b9","#b3df6e","#c6e4b4","#6cbc64","#9fd0b6","#23905c"]}, "legend": null},
    "strokeDash": {"field": "series", "type": "nominal", "scale": {"domain": ["ts1","bt1","ts10","bt10","ts20","bt20"], "range": [[3,3.5],[1,0],[3,3.5],[1,0],[3,3.5],[1,0]]}, "legend": null}
   }},
  {"title": {"text": "RC λ=1", "frame": "group"}, "width": 253, "height": 225, "data": {"name": "d"}, "transform": [{"filter": "datum.panel == 'd2'"}, {"fold": ["ts1","bt1","ts10","bt10","ts20","bt20"], "as": ["series","loss"]}],
   "mark": {"type": "line", "strokeWidth": 3, "interpolate": "monotone", "clip": true, "strokeCap": "butt"},
   "encoding": {
    "x": {"field": "beta", "type": "quantitative", "title": "β", "scale": {"domain": [-0.0495, 1.0395], "nice": false, "zero": false}, "axis": {"values": [0,0.25,0.5,0.75,1], "format": ".2f"}},
    "y": {"field": "loss", "type": "quantitative", "title": "Test loss", "scale": {"domain": [-0.04, 5.9], "nice": false, "zero": false}, "axis": {"values": [0,1,2,3,4,5], "format": "d"}},
    "color": {"field": "series", "type": "nominal", "scale": {"domain": ["ts1","bt1","ts10","bt10","ts20","bt20"], "range": ["#eef6b9","#b3df6e","#c6e4b4","#6cbc64","#9fd0b6","#23905c"]}, "legend": {"title": null, "orient": "top-right", "offset": 9, "labelExpr": "datum.value == 'ts1' ? 'TS p=0.01' : datum.value == 'bt1' ? 'TS+BT p=0.01' : datum.value == 'ts10' ? 'TS p=0.1' : datum.value == 'bt10' ? 'TS+BT p=0.1' : datum.value == 'ts20' ? 'TS p=0.2' : 'TS+BT p=0.2'"}},
    "strokeDash": {"field": "series", "type": "nominal", "scale": {"domain": ["ts1","bt1","ts10","bt10","ts20","bt20"], "range": [[3,3.5],[1,0],[3,3.5],[1,0],[3,3.5],[1,0]]}, "legend": {"title": null, "orient": "top-right", "offset": 9, "labelExpr": "datum.value == 'ts1' ? 'TS p=0.01' : datum.value == 'bt1' ? 'TS+BT p=0.01' : datum.value == 'ts10' ? 'TS p=0.1' : datum.value == 'bt10' ? 'TS+BT p=0.1' : datum.value == 'ts20' ? 'TS p=0.2' : 'TS+BT p=0.2'"}}
   }}
 ]}
 ]}
]},
{"spacing": 2, "resolve": {"scale": {"color": "independent", "strokeDash": "independent"}}, "hconcat": [
 {"width": 1, "height": 1, "data": {"values": []}, "mark": {"type": "text", "text": ""}, "view": {"stroke": null}},
 {"spacing": 5, "resolve": {"scale": {"color": "independent", "strokeDash": "independent"}}, "hconcat": [
 {"title": {"text": "(e) Imagenette trigger visibility cₘ = 10.", "orient": "bottom", "anchor": "middle", "frame": "bounds", "font": "DejaVu Serif", "fontSize": 28.5, "color": "#000000", "offset": 24.5}, "bounds": "flush", "spacing": 81, "resolve": {"scale": {"color": "independent", "strokeDash": "independent"}}, "hconcat": [
  {"title": {"text": "RBF SVM γ = 1e − 4 λ=10", "frame": "group"}, "width": 242, "height": 218, "data": {"name": "d"}, "transform": [{"filter": "datum.panel == 'e1'"}, {"fold": ["ts1","bt1","ts10","bt10","ts20","bt20"], "as": ["series","loss"]}],
   "mark": {"type": "line", "strokeWidth": 3, "interpolate": "monotone", "clip": true, "strokeCap": "butt"},
   "encoding": {
    "x": {"field": "beta", "type": "quantitative", "title": "β", "scale": {"domain": [-0.0495, 1.0395], "nice": false, "zero": false}, "axis": {"values": [0,0.5,1], "format": ".1f"}},
    "y": {"field": "loss", "type": "quantitative", "title": "Test loss", "scale": {"domain": [-0.02, 2.25], "nice": false, "zero": false}, "axis": {"values": [0,0.5,1,1.5,2], "format": ".1f"}},
    "color": {"field": "series", "type": "nominal", "scale": {"domain": ["ts1","bt1","ts10","bt10","ts20","bt20"], "range": ["#fde3e7","#fbb6bd","#f8bfd6","#e6489b","#e582c5","#7c0b7b"]}, "legend": null},
    "strokeDash": {"field": "series", "type": "nominal", "scale": {"domain": ["ts1","bt1","ts10","bt10","ts20","bt20"], "range": [[3,3.5],[1,0],[3,3.5],[1,0],[3,3.5],[1,0]]}, "legend": null}
   }},
  {"title": {"text": "RBF SVM γ = 1e − 4 λ=0.01", "frame": "group"}, "width": 240, "height": 218, "data": {"name": "d"}, "transform": [{"filter": "datum.panel == 'e2'"}, {"fold": ["ts1","bt1","ts10","bt10","ts20","bt20"], "as": ["series","loss"]}],
   "mark": {"type": "line", "strokeWidth": 3, "interpolate": "monotone", "clip": true, "strokeCap": "butt"},
   "encoding": {
    "x": {"field": "beta", "type": "quantitative", "title": "β", "scale": {"domain": [-0.0495, 1.0395], "nice": false, "zero": false}, "axis": {"values": [0,0.5,1], "format": ".1f"}},
    "y": {"field": "loss", "type": "quantitative", "title": "Test loss", "scale": {"domain": [-0.09, 2.6], "nice": false, "zero": false}, "axis": {"values": [0,0.5,1,1.5,2,2.5], "format": ".1f"}},
    "color": {"field": "series", "type": "nominal", "scale": {"domain": ["ts1","bt1","ts10","bt10","ts20","bt20"], "range": ["#fde3e7","#fbb6bd","#f8bfd6","#e6489b","#e582c5","#7c0b7b"]}, "legend": {"title": null, "orient": "top-right", "offset": 5, "labelExpr": "datum.value == 'ts1' ? 'TS p=0.01' : datum.value == 'bt1' ? 'TS+BT p=0.01' : datum.value == 'ts10' ? 'TS p=0.1' : datum.value == 'bt10' ? 'TS+BT p=0.1' : datum.value == 'ts20' ? 'TS p=0.2' : 'TS+BT p=0.2'"}},
    "strokeDash": {"field": "series", "type": "nominal", "scale": {"domain": ["ts1","bt1","ts10","bt10","ts20","bt20"], "range": [[3,3.5],[1,0],[3,3.5],[1,0],[3,3.5],[1,0]]}, "legend": {"title": null, "orient": "top-right", "offset": 5, "labelExpr": "datum.value == 'ts1' ? 'TS p=0.01' : datum.value == 'bt1' ? 'TS+BT p=0.01' : datum.value == 'ts10' ? 'TS p=0.1' : datum.value == 'bt10' ? 'TS+BT p=0.1' : datum.value == 'ts20' ? 'TS p=0.2' : 'TS+BT p=0.2'"}}
   }}
 ]},
 {"title": {"text": "(f) Imagenette trigger visibility cₘ = 75.", "orient": "bottom", "anchor": "middle", "frame": "bounds", "font": "DejaVu Serif", "fontSize": 28.5, "color": "#000000", "offset": 24.5}, "bounds": "flush", "spacing": 91, "resolve": {"scale": {"color": "independent", "strokeDash": "independent"}}, "hconcat": [
  {"title": {"text": "RBF SVM γ = 1e − 4 λ=10", "frame": "group"}, "width": 233, "height": 218, "data": {"name": "d"}, "transform": [{"filter": "datum.panel == 'f1'"}, {"fold": ["ts1","bt1","ts10","bt10","ts20","bt20"], "as": ["series","loss"]}],
   "mark": {"type": "line", "strokeWidth": 3, "interpolate": "monotone", "clip": true, "strokeCap": "butt"},
   "encoding": {
    "x": {"field": "beta", "type": "quantitative", "title": "β", "scale": {"domain": [-0.0495, 1.0395], "nice": false, "zero": false}, "axis": {"values": [0,0.5,1], "format": ".1f"}},
    "y": {"field": "loss", "type": "quantitative", "title": "Test loss", "scale": {"domain": [0.028, 1.392], "nice": false, "zero": false}, "axis": {"values": [0.25,0.5,0.75,1,1.25], "format": ".2f"}},
    "color": {"field": "series", "type": "nominal", "scale": {"domain": ["ts1","bt1","ts10","bt10","ts20","bt20"], "range": ["#fde3e7","#fbb6bd","#f8bfd6","#e6489b","#e582c5","#7c0b7b"]}, "legend": null},
    "strokeDash": {"field": "series", "type": "nominal", "scale": {"domain": ["ts1","bt1","ts10","bt10","ts20","bt20"], "range": [[3,3.5],[1,0],[3,3.5],[1,0],[3,3.5],[1,0]]}, "legend": null}
   }},
  {"title": {"text": "RBF SVM γ = 1e − 4 λ=0.1", "frame": "group"}, "width": 234, "height": 218, "data": {"name": "d"}, "transform": [{"filter": "datum.panel == 'f2'"}, {"fold": ["ts1","bt1","ts10","bt10","ts20","bt20"], "as": ["series","loss"]}],
   "mark": {"type": "line", "strokeWidth": 3, "interpolate": "monotone", "clip": true, "strokeCap": "butt"},
   "encoding": {
    "x": {"field": "beta", "type": "quantitative", "title": "β", "scale": {"domain": [-0.0495, 1.0395], "nice": false, "zero": false}, "axis": {"values": [0,0.5,1], "format": ".1f"}},
    "y": {"field": "loss", "type": "quantitative", "title": "Test loss", "scale": {"domain": [-0.04, 1.66], "nice": false, "zero": false}, "axis": {"values": [0,0.5,1,1.5], "format": ".1f"}},
    "color": {"field": "series", "type": "nominal", "scale": {"domain": ["ts1","bt1","ts10","bt10","ts20","bt20"], "range": ["#fde3e7","#fbb6bd","#f8bfd6","#e6489b","#e582c5","#7c0b7b"]}, "legend": {"title": null, "orient": "top-right", "offset": 5, "labelExpr": "datum.value == 'ts1' ? 'TS p=0.01' : datum.value == 'bt1' ? 'TS+BT p=0.01' : datum.value == 'ts10' ? 'TS p=0.1' : datum.value == 'bt10' ? 'TS+BT p=0.1' : datum.value == 'ts20' ? 'TS p=0.2' : 'TS+BT p=0.2'"}},
    "strokeDash": {"field": "series", "type": "nominal", "scale": {"domain": ["ts1","bt1","ts10","bt10","ts20","bt20"], "range": [[3,3.5],[1,0],[3,3.5],[1,0],[3,3.5],[1,0]]}, "legend": {"title": null, "orient": "top-right", "offset": 5, "labelExpr": "datum.value == 'ts1' ? 'TS p=0.01' : datum.value == 'bt1' ? 'TS+BT p=0.01' : datum.value == 'ts10' ? 'TS p=0.1' : datum.value == 'bt10' ? 'TS+BT p=0.1' : datum.value == 'ts20' ? 'TS p=0.2' : 'TS+BT p=0.2'"}}
   }}
 ]}
 ]}
]}
]
}
